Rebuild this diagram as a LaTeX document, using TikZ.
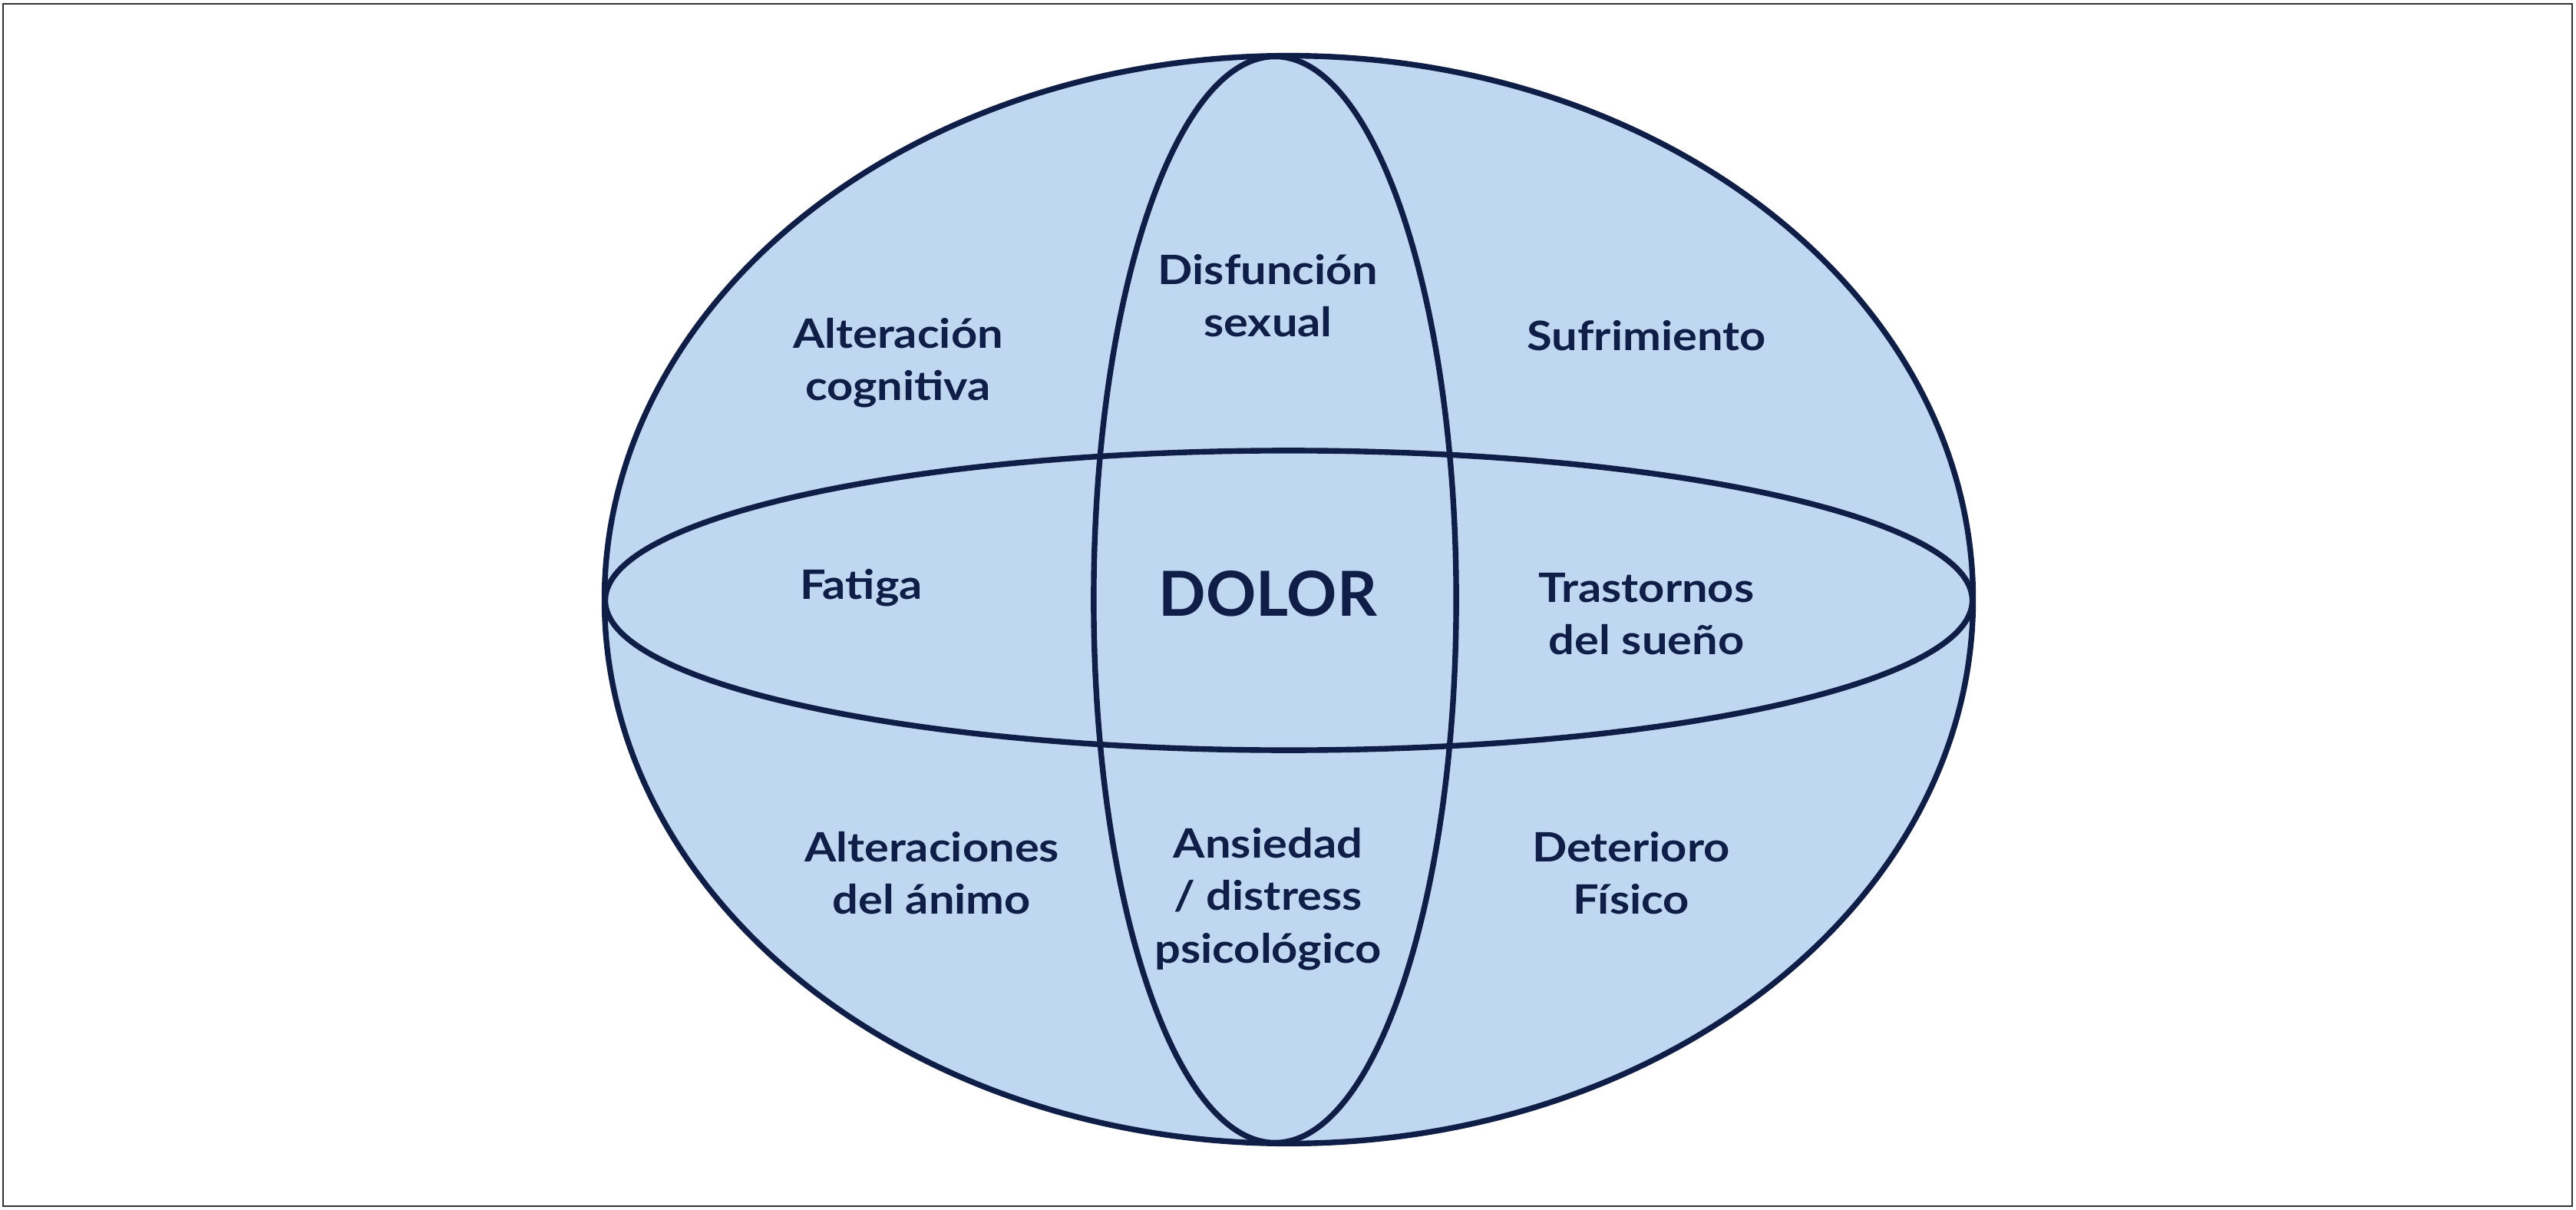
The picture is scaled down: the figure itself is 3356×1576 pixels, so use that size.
\documentclass[tikz,border=0pt]{standalone}
\usepackage{fontspec}
\setmainfont{Lato}[BoldFont={Lato Bold}]
\newfontfamily\lblfont{Lato Bold}[FakeStretch=1.13]
\definecolor{navy}{HTML}{0F1E47}
\definecolor{fillblue}{HTML}{C0D7F2}
\definecolor{framegray}{HTML}{333333}
\tikzset{
  ring/.style={draw=navy, line width=2.1pt},
  lbl/.style={text=navy, align=center, font=\lblfont\fontsize{15}{19.4}\selectfont, inner sep=0pt},
  big/.style={text=navy, align=center, font=\bfseries\fontsize{23}{28}\selectfont, inner sep=0pt}
}
\begin{document}
\begin{tikzpicture}[x=0.01cm,y=-0.01cm]
\useasboundingbox (0,0) rectangle (3356,1576);
\draw[framegray, line width=0.7pt] (4,5) rectangle (3351,1571);
% outer sphere
\coordinate (oc) at (1679,781);
\coordinate (hc) at (1679,782);
\coordinate (vc) at (1661,781);
\fill[fillblue] (oc) ellipse [x radius=8.91cm, y radius=7.08cm];
\draw[ring] (hc) ellipse [x radius=8.90cm, y radius=1.95cm];
\draw[ring] (vc) ellipse [x radius=2.36cm, y radius=7.07cm];
\draw[ring] (oc) ellipse [x radius=8.91cm, y radius=7.08cm];
% labels
\node[lbl] (cog) at (1170,473) {Alteración\\cognitiva};
\node[lbl] (sex) at (1652,385) {Disfunción\\sexual};
\node[lbl] (suf) at (2145,437) {Sufrimiento};
\node[lbl] (fat) at (1122,766) {Fatiga};
\node[big] (dol) at (1652,773) {DOLOR};
\node[lbl] (sue) at (2145,800) {Trastornos\\del sueño};
\node[lbl] (ani) at (1214,1137) {Alteraciones\\del ánimo};
\node[lbl] (ans) at (1652,1171) {Ansiedad\\/ distress\\psicológico};
\node[lbl] (fis) at (2125,1137) {Deterioro\\Físico};
\end{tikzpicture}
\end{document}
